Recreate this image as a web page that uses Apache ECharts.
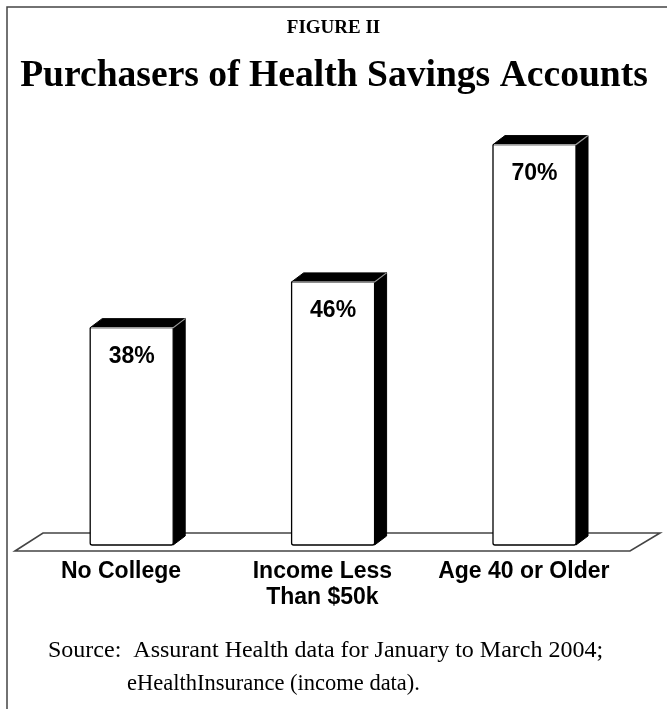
<!DOCTYPE html>
<html>
<head>
<meta charset="utf-8">
<script src="https://cdn.jsdelivr.net/npm/echarts@6/dist/echarts.min.js"></script>
<style>
html,body{margin:0;padding:0;background:#fff;}
#chart{width:667px;height:709px;}
</style>
</head>
<body>
<div id="chart"></div>
<script>
const categories = ['No College', 'Income Less\nThan $50k', 'Age 40 or Older'];
const values = [38, 46, 70];
const valueLabels = ['38%', '46%', '70%'];
const figureLabel = 'FIGURE II';
const titleText = 'Purchasers of Health Savings Accounts';
const sourceLine1 = 'Source:  Assurant Health data for January to March 2004;';
const sourceLine2 = 'eHealthInsurance (income data).';

const SANS = "'Liberation Sans', Arial, sans-serif";
const SERIF = "'Liberation Serif', 'Times New Roman', serif";

const chart = echarts.init(document.getElementById('chart'), null, {renderer: 'canvas'});

const BAR_W = 83, SHIFT = 10.7, DX = 12, DY = 9;

function renderItem(params, api) {
  const idx = api.value(0);
  const v = api.value(1);
  const top = api.coord([idx, v]);
  const base = api.coord([idx, 0]);
  const cx = top[0] + SHIFT;
  const xL = cx - BAR_W / 2, xR = cx + BAR_W / 2;
  const yT = top[1], yB = base[1];
  return {
    type: 'group',
    children: [
      {type: 'polygon', shape: {points: [[xR, yT], [xR + DX, yT - DY], [xR + DX, yB - DY], [xR, yB]]},
       style: {fill: '#000', stroke: '#000', lineWidth: 1}},
      {type: 'polygon', shape: {points: [[xL, yT], [xL + DX, yT - DY], [xR + DX, yT - DY], [xR, yT]]},
       style: {fill: '#000', stroke: '#000', lineWidth: 1}},
      {type: 'rect', shape: {x: xL, y: yT, width: BAR_W, height: yB - yT, r: [0, 0, 2, 2]},
       style: {fill: '#fff', stroke: '#000', lineWidth: 1.3}},
      {type: 'polyline', shape: {points: [[xL + 1, yT], [xR, yT], [xR + DX, yT - DY]]},
       style: {fill: null, stroke: '#9a9a9a', lineWidth: 1.2}},
      {type: 'text', x: cx, y: yT + 29,
       style: {text: valueLabels[idx], fill: '#000', align: 'center', verticalAlign: 'middle',
               font: 'bold 23px ' + SANS}}
    ]
  };
}

const option = {
  animation: false,
  backgroundColor: '#fff',
  grid: {left: 20.3, right: 42.5, top: 87.4, bottom: 164, containLabel: false},
  xAxis: {
    type: 'category',
    data: categories,
    axisLine: {show: false},
    axisTick: {show: false},
    splitLine: {show: false},
    axisLabel: {
      color: '#000', fontSize: 23, fontWeight: 'bold', fontFamily: SANS,
      lineHeight: 26, margin: 14, interval: 0
    }
  },
  yAxis: {type: 'value', min: 0, max: 80, show: false},
  series: [{
    type: 'custom',
    z: 5,
    renderItem: renderItem,
    data: values.map((v, i) => [i, v])
  }],
  graphic: [
    {type: 'polyline', z: 1, shape: {points: [[7, 709], [7, 7], [667, 7]]},
     style: {fill: null, stroke: '#444', lineWidth: 1.5}},
    {type: 'polygon', z: 1, shape: {points: [[15, 551], [43, 533], [660, 533], [630, 551]]},
     style: {fill: '#fff', stroke: '#444', lineWidth: 1.6}},
    {type: 'text', z: 1, x: 333.5, y: 28,
     style: {text: figureLabel, fill: '#000', align: 'center', verticalAlign: 'middle',
             font: 'bold 19px ' + SERIF}},
    {type: 'text', z: 1, x: 334, y: 76,
     style: {text: titleText, fill: '#000', align: 'center', verticalAlign: 'middle',
             font: 'bold 37.6px ' + SERIF}},
    {type: 'text', z: 1, x: 48, y: 651,
     style: {text: sourceLine1, fill: '#000', align: 'left', verticalAlign: 'middle',
             font: '24px ' + SERIF}},
    {type: 'text', z: 1, x: 127, y: 684,
     style: {text: sourceLine2, fill: '#000', align: 'left', verticalAlign: 'middle',
             font: '22.5px ' + SERIF}}
  ]
};
chart.setOption(option);
</script>
</body>
</html>
